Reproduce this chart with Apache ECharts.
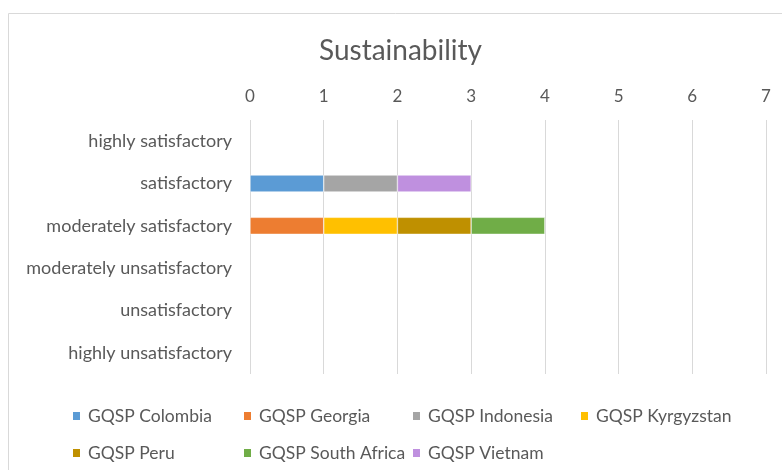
<!DOCTYPE html>
<html>
<head>
<meta charset="utf-8">
<script src="https://cdn.jsdelivr.net/npm/echarts@6/dist/echarts.min.js"></script>
<style>
  html, body { margin: 0; padding: 0; background: #fff; }
  #main { width: 782px; height: 470px; }
</style>
</head>
<body>
<div id="main"></div>
<script>
// rating categories, top to bottom
var categories = ['highly satisfactory', 'satisfactory', 'moderately satisfactory',
    'moderately unsatisfactory', 'unsatisfactory', 'highly unsatisfactory'];
var ticks = [0, 1, 2, 3, 4, 5, 6, 7];

var names = ['GQSP Colombia', 'GQSP Georgia', 'GQSP Indonesia', 'GQSP Kyrgyzstan',
    'GQSP Peru', 'GQSP South Africa', 'GQSP Vietnam'];
var colombia    = [null, 1, null, null, null, null];
var georgia     = [null, null, 1, null, null, null];
var indonesia   = [null, 1, null, null, null, null];
var kyrgyzstan  = [null, null, 1, null, null, null];
var peru        = [null, null, 1, null, null, null];
var southAfrica = [null, null, 1, null, null, null];
var vietnam     = [null, 1, null, null, null, null];
var values = [colombia, georgia, indonesia, kyrgyzstan, peru, southAfrica, vietnam];

var colors = ['#5b9bd5', '#ed7d31', '#a5a5a5', '#ffc000', '#bf9000', '#70ad47', '#bf90df'];

var myChart = echarts.init(document.getElementById('main'));

// legend laid out in columns like the original
var legendLeft = [71, 242, 411, 579, 71, 242, 411];
var legendTop = [407, 407, 407, 407, 444, 444, 444];
var legends = names.map(function (n, i) {
    return {
        data: [n],
        left: legendLeft[i],
        top: legendTop[i],
        padding: 0,
        icon: 'rect',
        itemWidth: 9,
        itemHeight: 10,
        textStyle: { color: '#595959', fontSize: 17.5, fontFamily: 'Lato', padding: [0, 0, 0, 2] }
    };
});

var option = {
    color: colors,
    animation: false,
    title: {
        text: 'Sustainability',
        left: 314,
        top: 32,
        textStyle: { color: '#595959', fontSize: 28, fontWeight: 'normal', fontFamily: 'Lato' }
    },
    graphic: [{
        type: 'rect',
        shape: { x: 8.5, y: 13.5, width: 900, height: 600 },
        style: { fill: 'none', stroke: '#d9d9d9', lineWidth: 1 }
    }],
    legend: legends,
    grid: { left: 250, right: 16, top: 120, bottom: 96 },
    xAxis: {
        type: 'value',
        position: 'top',
        min: ticks[0],
        max: ticks[ticks.length - 1],
        interval: 1,
        axisLine: { show: false },
        axisTick: { show: false },
        axisLabel: { color: '#595959', fontSize: 17, fontFamily: 'Lato', margin: 15 },
        splitLine: { lineStyle: { color: '#d9d9d9' } }
    },
    yAxis: {
        type: 'category',
        inverse: true,
        data: categories,
        axisLine: { show: false },
        axisTick: { show: false },
        axisLabel: { color: '#595959', fontSize: 18, fontFamily: 'Lato', margin: 18 }
    },
    series: names.map(function (n, i) {
        return {
            name: n,
            type: 'bar',
            stack: 'total',
            barWidth: 17,
            itemStyle: { borderColor: '#fff', borderWidth: 0.5 },
            data: values[i]
        };
    })
};

myChart.setOption(option);
</script>
</body>
</html>
